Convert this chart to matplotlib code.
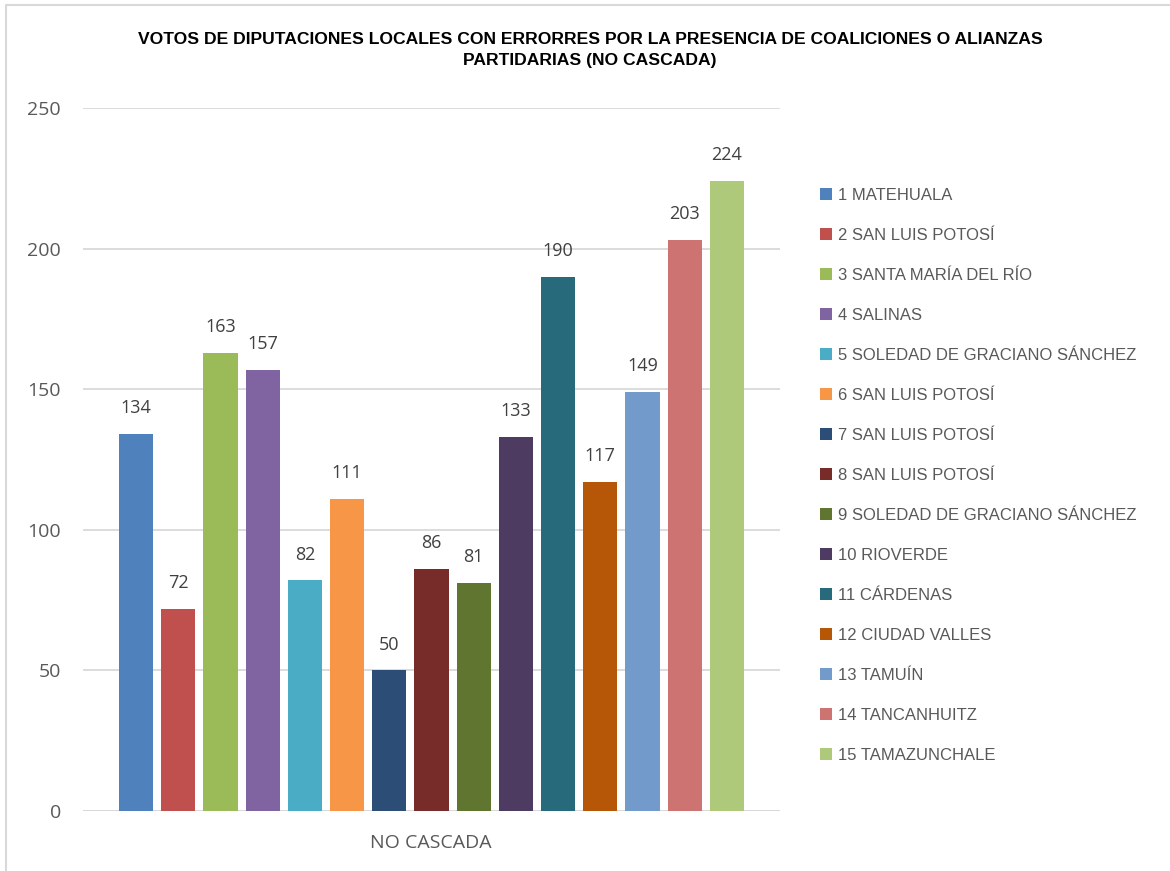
import matplotlib
matplotlib.use('Agg')
import matplotlib.pyplot as plt
from matplotlib.patches import Rectangle, Patch

# Data
distritos = ['1 MATEHUALA', '2 SAN LUIS POTOSÍ', '3 SANTA MARÍA DEL RÍO', '4 SALINAS',
             '5 SOLEDAD DE GRACIANO SÁNCHEZ', '6 SAN LUIS POTOSÍ', '7 SAN LUIS POTOSÍ',
             '8 SAN LUIS POTOSÍ', '9 SOLEDAD DE GRACIANO SÁNCHEZ', '10 RIOVERDE',
             '11 CÁRDENAS', '12 CIUDAD VALLES', '13 TAMUÍN', '14 TANCANHUITZ',
             '15 TAMAZUNCHALE']
votos = [134, 72, 163, 157, 82, 111, 50, 86, 81, 133, 190, 117, 149, 203, 224]
colores = ['#4F81BD', '#C0504D', '#9BBB59', '#8064A2', '#4BACC6', '#F79646', '#2C4D75',
           '#772C2A', '#5F7530', '#4D3B62', '#276A7C', '#B65708', '#729ACA', '#CD7371',
           '#AFC97A']
categoria = 'NO CASCADA'
titulo = ('VOTOS DE DIPUTACIONES LOCALES CON ERRORRES POR LA PRESENCIA DE COALICIONES O ALIANZAS\n'
          'PARTIDARIAS (NO CASCADA)')

narrow = 'Liberation Sans'
body = 'Open Sans'

fig = plt.figure(figsize=(11.7, 8.71), dpi=100)
ax = fig.add_axes([83 / 1170, 1 - 811 / 871, (780 - 83) / 1170, (811 - 108) / 871])

x = list(range(len(votos)))
ax.bar(x, votos, width=0.81, color=colores, zorder=3)
for xi, v in zip(x, votos):
    ax.text(xi, v + 6, str(v), ha='center', va='bottom', fontsize=13,
            color='#404040', family=body)

ax.set_ylim(0, 250)
ax.set_xlim(-1.26, len(votos) - 1 + 1.26)
ax.set_yticks(range(0, 251, 50))
ax.set_yticklabels([str(t) for t in range(0, 251, 50)], family=body, fontsize=14, color='#595959')
ax.tick_params(axis='y', length=0, pad=16)
ax.set_xticks([])
ax.grid(axis='y', color='#D9D9D9', linewidth=1.3, zorder=0)
for s in ax.spines.values():
    s.set_visible(False)
ax.axhline(0, color='#D9D9D9', linewidth=1.3, zorder=2)

fig.text(431 / 1170, 1 - 843 / 871, categoria, ha='center', va='center',
         fontsize=14, color='#595959', family=body)

fig.text(590 / 1170, 1 - 50 / 871, titulo, ha='center', va='center', fontsize=12.6,
         fontweight='bold', color='black', family=narrow, linespacing=1.55)

# Legend
handles = [Patch(facecolor=c, edgecolor='none') for c in colores]
leg = fig.legend(handles, distritos, loc='upper left', bbox_to_anchor=(820 / 1170, 1 - 188 / 871),
                 frameon=False, handlelength=0.7, handleheight=0.7, handletextpad=0.35,
                 labelspacing=1.5, borderpad=0, borderaxespad=0,
                 prop={'family': narrow, 'size': 12})
for t in leg.get_texts():
    t.set_color('#595959')

# Chart border (left and top edges visible)
fig.add_artist(Rectangle((6 / 1170, -0.05), 1.2, 1 - 5 / 871 + 0.05, transform=fig.transFigure,
                         fill=False, edgecolor='#D9D9D9', linewidth=1.5))

fig.savefig('out.png', dpi=100)
